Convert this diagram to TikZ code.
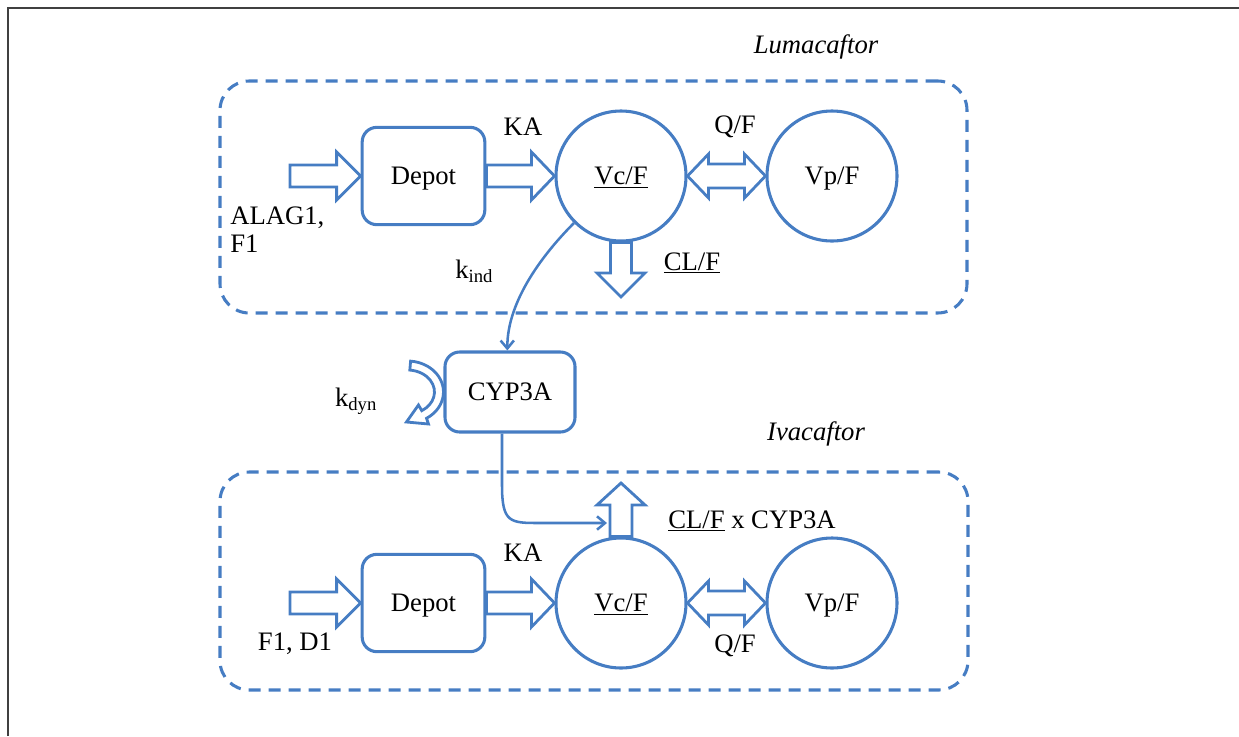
\documentclass[tikz,border=0pt]{standalone}
\usepackage{fontspec}
\setmainfont{Liberation Serif}
\usetikzlibrary{calc,arrows.meta}
\definecolor{pkblue}{RGB}{70,125,195}
% right-pointing block arrow: start, tip, shaft half, head half, head length
\newcommand{\rblk}[5]{\draw[blk] ($(#1)+(0,-#3)$) -- ($(#2)+(-#5,-#3)$) -- ($(#2)+(-#5,-#4)$) -- (#2) -- ($(#2)+(-#5,#4)$) -- ($(#2)+(-#5,#3)$) -- ($(#1)+(0,#3)$) -- cycle;}
% down-pointing block arrow
\newcommand{\dblk}[5]{\draw[blk] ($(#1)+(-#3,0)$) -- ($(#2)+(-#3,-#5)$) -- ($(#2)+(-#4,-#5)$) -- (#2) -- ($(#2)+(#4,-#5)$) -- ($(#2)+(#3,-#5)$) -- ($(#1)+(#3,0)$) -- cycle;}
% up-pointing block arrow
\newcommand{\ublk}[5]{\draw[blk] ($(#1)+(-#3,0)$) -- ($(#2)+(-#3,#5)$) -- ($(#2)+(-#4,#5)$) -- (#2) -- ($(#2)+(#4,#5)$) -- ($(#2)+(#3,#5)$) -- ($(#1)+(#3,0)$) -- cycle;}
% double-headed horizontal block arrow
\newcommand{\lrblk}[5]{\draw[blk] (#1) -- ($(#1)+(#5,-#4)$) -- ($(#1)+(#5,-#3)$) -- ($(#2)+(-#5,-#3)$) -- ($(#2)+(-#5,-#4)$) -- (#2) -- ($(#2)+(-#5,#4)$) -- ($(#2)+(-#5,#3)$) -- ($(#1)+(#5,#3)$) -- ($(#1)+(#5,#4)$) -- cycle;}
\begin{document}
\begin{tikzpicture}[x=0.75pt,y=-0.75pt,
  every node/.style={font=\fontsize{20}{24}\selectfont, text=black},
  comp/.style={draw=pkblue, line width=2.3pt, circle, minimum size=97.5pt, inner sep=0pt, text depth=0pt},
  rbox/.style={draw=pkblue, line width=2.3pt, rounded corners=11pt, inner sep=0pt, text depth=0pt},
  grp/.style={draw=pkblue, line width=2.3pt, dash pattern=on 9pt off 6pt, rounded corners=22pt, inner sep=0pt},
  blk/.style={draw=pkblue, line width=2.1pt, fill=white, line join=miter},
  lnk/.style={draw=pkblue, line width=1.9pt, -{Straight Barb[length=6pt,width=10pt]}},
  lbl/.style={inner sep=0pt},
  ital/.style={inner sep=0pt, font=\fontsize{20}{24}\selectfont\itshape}]
\useasboundingbox (0,0) rectangle (1239,736);
\draw[line width=1.5pt, black!75] (8,736) -- (8,8) -- (1239,8);

% groups
\node[grp, minimum width=560.25pt, minimum height=174pt] (grp1) at (593.5,197) {};
\node[grp, minimum width=561pt, minimum height=163.5pt] (grp2) at (594,581) {};

% compartments
\node[rbox, minimum width=92pt, minimum height=73pt] (dep1) at (423.5,176) {Depot};
\node[comp] (vc1) at (621,176) {\underline{Vc/F}};
\node[comp] (vp1) at (832,176) {Vp/F};
\node[rbox, minimum width=97.5pt, minimum height=60pt] (cyp) at (510,392) {CYP3A};
\node[rbox, minimum width=92pt, minimum height=73pt] (dep2) at (423.5,603) {Depot};
\node[comp] (vc2) at (621,603) {\underline{Vc/F}};
\node[comp] (vp2) at (832,603) {Vp/F};

% free ends
\coordinate (in1) at (290,176);
\coordinate (in2) at (290,603);
\coordinate (cl1) at (621,297);
\coordinate (cl2) at (621,483);
\coordinate (clend) at (607,523);

% block arrows
\rblk{in1}{dep1.west}{11}{24}{24}
\rblk{dep1.east}{vc1.west}{11}{24}{23}
\lrblk{vc1.east}{vp1.west}{12}{22}{21}
\dblk{vc1.south}{cl1}{10.5}{24}{24}
\rblk{in2}{dep2.west}{11}{24}{24}
\rblk{dep2.east}{vc2.west}{11}{24}{23}
\lrblk{vc2.east}{vp2.west}{12}{22}{21}
\ublk{vc2.north}{cl2}{11}{24}{22}

% kdyn crescent arrow
\coordinate (kc) at ($(cyp.west)+(-36,0)$);
\draw[blk] ($(kc)+(-85:36 and 31)$) arc[start angle=-85,end angle=58,x radius=36,y radius=31]
  -- ($(kc)+(21,32)$) -- ($(kc)+(-1,30)$) -- ($(kc)+(11,13)$)
  -- ($(kc)+(58:27 and 22)$) arc[start angle=58,end angle=-85,x radius=27,y radius=22] -- cycle;

% thin links
\draw[lnk] (vc1.225) .. controls (545,252) and (507,300) .. ([xshift=-2pt]cyp.north);
\draw[lnk] ([xshift=-6pt]cyp.south) -- (502,485) .. controls (502,523) and (510,523) .. (540,523) -- (clend);

% labels
\node[ital] (luma) at (816,47) {Lumacaftor};
\node[lbl] (ka1) at (523,127) {KA};
\node[lbl] (qf1) at (735,127) {Q/F};
\node[lbl, anchor=west] (alag) at (230,218) {ALAG1,};
\node[lbl, anchor=west] (f1) at (230,244) {F1};
\node[lbl, anchor=west] (kind) at (455,271) {k\textsubscript{ind}};
\node[lbl] (cll1) at (692,263) {\underline{CL/F}};
\node[lbl] (kdyn) at (356,401) {k\textsubscript{dyn}};
\node[ital] (iva) at (816,434) {Ivacaftor};
\node[lbl] (clx) at (752,521) {\underline{CL/F} x CYP3A};
\node[lbl] (ka2) at (523,553) {KA};
\node[lbl] (fd) at (295,644) {F1, D1};
\node[lbl] (qf2) at (735,646) {Q/F};
\end{tikzpicture}
\end{document}
